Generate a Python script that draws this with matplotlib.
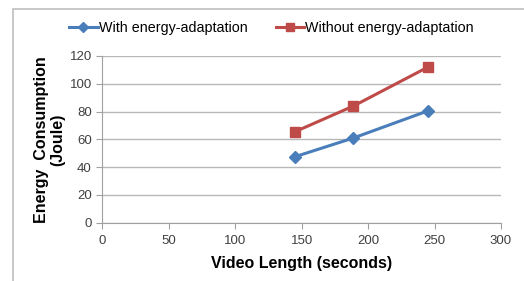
import matplotlib
matplotlib.use("Agg")
import matplotlib.pyplot as plt
from matplotlib.patches import Rectangle

video_length = [145, 189, 245]
with_adapt = [47.5, 61, 80.5]
without_adapt = [65.5, 84, 112]
series_labels = ["With energy-adaptation", "Without energy-adaptation"]
x_ticks = [0, 50, 100, 150, 200, 250, 300]
y_ticks = [0, 20, 40, 60, 80, 100, 120]

blue = "#4a7ebb"
red = "#be4b48"

fig = plt.figure(figsize=(5.24, 2.81), dpi=100)
fig.patches.append(Rectangle((13/524, -0.1), 1.2, 1 - 9/281 + 0.1, transform=fig.transFigure,
                             fill=False, edgecolor="#bfbfbf", linewidth=1.2))
ax = fig.add_axes([102.3/524, 1 - 222.7/281, (501 - 102.3)/524, (222.7 - 56)/281])

ax.plot(video_length, with_adapt, color=blue, lw=2.2, marker="D", ms=6, label=series_labels[0])
ax.plot(video_length, without_adapt, color=red, lw=2.2, marker="s", ms=7, label=series_labels[1])

ax.set_xlim(0, 300)
ax.set_ylim(0, 120)
ax.set_xticks(x_ticks)
ax.set_yticks(y_ticks)
ax.yaxis.grid(True, color="#b8b8b8", lw=1)
ax.set_axisbelow(True)
for s in ["top", "right"]:
    ax.spines[s].set_visible(False)
for s in ["left", "bottom"]:
    ax.spines[s].set_color("#a0a0a0")
ax.tick_params(axis="both", colors="#a0a0a0", labelcolor="#404040", labelsize=9.5, length=4)
ax.tick_params(axis="x", pad=5)
for lab in ax.get_xticklabels() + ax.get_yticklabels():
    lab.set_family("Liberation Sans")

ax.set_xlabel("Video Length (seconds)", fontsize=11.5, fontweight="bold", family="Liberation Sans", labelpad=6)
ax.set_ylabel("Energy  Consumption\n(Joule)", fontsize=11.5, fontweight="bold", family="Liberation Sans",
              labelpad=3, linespacing=1.1)

fig.legend(loc="center", bbox_to_anchor=(271.5/524, 1 - 28/281), ncol=2, frameon=False,
           prop={"family": "Liberation Sans", "size": 10.3}, handlelength=2.0, handletextpad=0.05,
           columnspacing=2.0, markerscale=0.8)

fig.savefig("out.png", dpi=100)
